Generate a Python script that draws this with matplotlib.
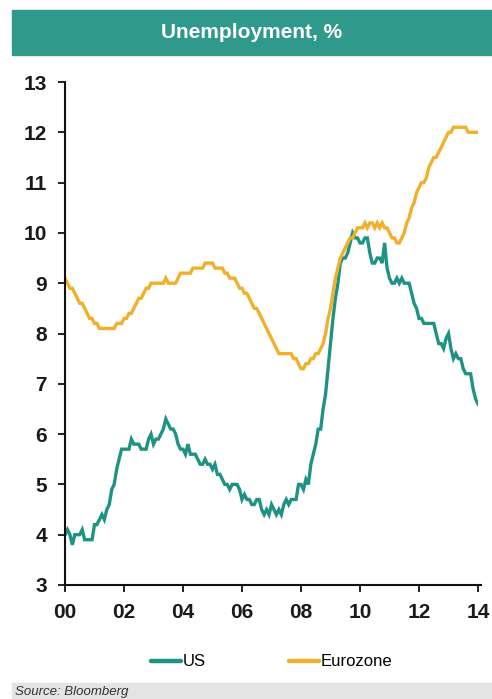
import numpy as np
import matplotlib.pyplot as plt
from matplotlib.patches import Rectangle

plt.rcParams['font.family'] = ['Liberation Sans', 'DejaVu Sans']

# monthly unemployment rate, Jan 2000 .. Jan 2014
us = [4.0, 4.1, 4.0, 3.8, 4.0, 4.0, 4.0, 4.1, 3.9, 3.9, 3.9, 3.9,
      4.2, 4.2, 4.3, 4.4, 4.3, 4.5, 4.6, 4.9, 5.0, 5.3, 5.5, 5.7,
      5.7, 5.7, 5.7, 5.9, 5.8, 5.8, 5.8, 5.7, 5.7, 5.7, 5.9, 6.0,
      5.8, 5.9, 5.9, 6.0, 6.1, 6.3, 6.2, 6.1, 6.1, 6.0, 5.8, 5.7,
      5.7, 5.6, 5.8, 5.6, 5.6, 5.6, 5.5, 5.4, 5.4, 5.5, 5.4, 5.4,
      5.3, 5.4, 5.2, 5.2, 5.1, 5.0, 5.0, 4.9, 5.0, 5.0, 5.0, 4.9,
      4.7, 4.8, 4.7, 4.7, 4.6, 4.6, 4.7, 4.7, 4.5, 4.4, 4.5, 4.4,
      4.6, 4.5, 4.4, 4.5, 4.4, 4.6, 4.7, 4.6, 4.7, 4.7, 4.7, 5.0,
      5.0, 4.9, 5.1, 5.0, 5.4, 5.6, 5.8, 6.1, 6.1, 6.5, 6.8, 7.3,
      7.8, 8.3, 8.7, 9.0, 9.4, 9.5, 9.5, 9.6, 9.8, 10.0, 9.9, 9.9,
      9.8, 9.8, 9.9, 9.9, 9.6, 9.4, 9.4, 9.5, 9.5, 9.4, 9.8, 9.3,
      9.1, 9.0, 9.0, 9.1, 9.0, 9.1, 9.0, 9.0, 9.0, 8.8, 8.6, 8.5,
      8.3, 8.3, 8.2, 8.2, 8.2, 8.2, 8.2, 8.0, 7.8, 7.8, 7.7, 7.9,
      8.0, 7.7, 7.5, 7.6, 7.5, 7.5, 7.3, 7.2, 7.2, 7.2, 6.9, 6.7,
      6.6]

eurozone = [9.1, 9.0, 8.9, 8.9, 8.8, 8.7, 8.6, 8.6, 8.5, 8.4, 8.3, 8.3,
            8.2, 8.2, 8.1, 8.1, 8.1, 8.1, 8.1, 8.1, 8.1, 8.2, 8.2, 8.2,
            8.3, 8.3, 8.4, 8.4, 8.5, 8.6, 8.7, 8.7, 8.8, 8.9, 8.9, 9.0,
            9.0, 9.0, 9.0, 9.0, 9.0, 9.1, 9.0, 9.0, 9.0, 9.0, 9.1, 9.2,
            9.2, 9.2, 9.2, 9.2, 9.3, 9.3, 9.3, 9.3, 9.3, 9.4, 9.4, 9.4,
            9.4, 9.3, 9.3, 9.3, 9.3, 9.2, 9.2, 9.1, 9.1, 9.1, 9.0, 8.9,
            8.9, 8.8, 8.8, 8.7, 8.6, 8.5, 8.5, 8.4, 8.3, 8.2, 8.1, 8.0,
            7.9, 7.8, 7.7, 7.6, 7.6, 7.6, 7.6, 7.6, 7.6, 7.5, 7.5, 7.4,
            7.3, 7.3, 7.4, 7.4, 7.5, 7.5, 7.6, 7.6, 7.7, 7.8, 8.0, 8.3,
            8.5, 8.8, 9.1, 9.3, 9.5, 9.6, 9.7, 9.8, 9.9, 9.9, 10.0, 10.1,
            10.1, 10.1, 10.2, 10.1, 10.2, 10.2, 10.1, 10.2, 10.1, 10.2, 10.1, 10.1,
            10.0, 9.9, 9.9, 9.8, 9.8, 9.9, 10.0, 10.2, 10.3, 10.5, 10.6, 10.8,
            10.9, 11.0, 11.0, 11.1, 11.3, 11.4, 11.5, 11.5, 11.6, 11.7, 11.8, 11.9,
            12.0, 12.0, 12.1, 12.1, 12.1, 12.1, 12.1, 12.1, 12.0, 12.0, 12.0, 12.0,
            12.0]

year_ticks = [0, 2, 4, 6, 8, 10, 12, 14]
year_labels = ['00', '02', '04', '06', '08', '10', '12', '14']
y_ticks = list(range(3, 14))

teal = '#1f9383'
gold = '#f0b02c'

fig = plt.figure(figsize=(4.92, 6.99), dpi=100)
W, H = 492, 699

# header banner and source strip
fig.patches.append(Rectangle((12 / W, 1 - 55 / H), 1, 45 / H,
                             transform=fig.transFigure, color='#2f9a8b', zorder=0))
fig.text(252 / W, 1 - 33 / H, 'Unemployment, %', color='white', fontsize=15,
         fontweight='bold', ha='center', va='center')
fig.patches.append(Rectangle((12 / W, 0), 1, 16 / H,
                             transform=fig.transFigure, color='#e4e4e4', zorder=0))
fig.text(15 / W, 1 / H, 'Source: Bloomberg', fontsize=9.5, style='italic',
         color='#333333', ha='left', va='bottom')

ax = fig.add_axes([65 / W, 1 - 585 / H, (478 - 65) / W, (585 - 82) / H])
t = np.arange(len(us)) / 12.0
ax.plot(t, us, color=teal, lw=2.4, label='US', solid_joinstyle='miter')
ax.plot(t, eurozone, color=gold, lw=2.4, label='Eurozone', solid_joinstyle='miter')

ax.set_xlim(0, 14)
ax.set_ylim(3, 13)
ax.set_xticks(year_ticks)
ax.set_xticklabels(year_labels)
ax.set_yticks(y_ticks)
for s in ['top', 'right']:
    ax.spines[s].set_visible(False)
for s in ['left', 'bottom']:
    ax.spines[s].set_linewidth(1.5)
    ax.spines[s].set_color('#111111')
ax.spines['bottom'].set_bounds(0, 14.1)
ax.tick_params(axis='both', direction='out', length=5, width=1.3, color='#111111',
               labelsize=15, pad=8)
for lab in ax.get_xticklabels() + ax.get_yticklabels():
    lab.set_fontweight('bold')
    lab.set_color('#1a1a1a')

leg = fig.legend(loc='center', bbox_to_anchor=(272 / W, 1 - 662 / H), ncol=2,
                 frameon=False, fontsize=12, handlelength=1.8, handletextpad=0.1,
                 columnspacing=5.0)
for h in leg.legend_handles:
    h.set_linewidth(3.2)
    h.set_solid_capstyle('round')

fig.savefig('out.png', dpi=100)
